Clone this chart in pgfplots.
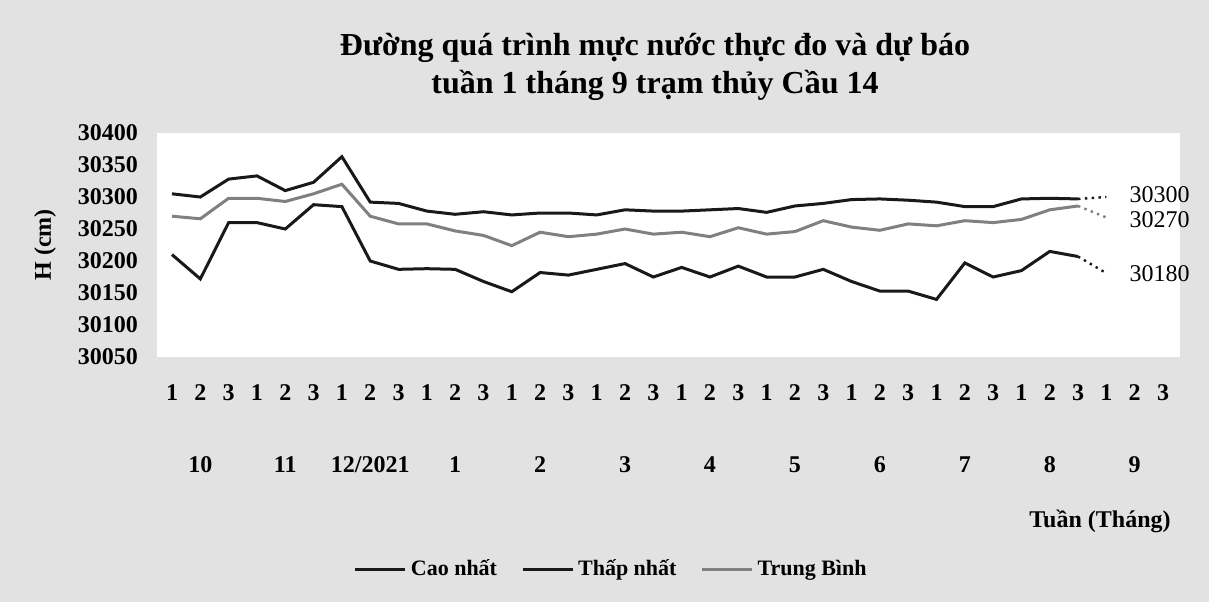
\documentclass[border=0pt]{standalone}
\usepackage{pgfplots}
\usepackage{pgfplotstable}
\pgfplotsset{compat=1.18}
\usepackage{fontspec}
\setmainfont{Liberation Serif}
\definecolor{bgray}{RGB}{226,226,226}
\definecolor{lblack}{RGB}{25,25,25}
\definecolor{lgray}{RGB}{128,128,128}

\pgfplotstableread{
x cao thap tb
0 30305 30210 30270
1 30300 30172 30266
2 30328 30260 30298
3 30333 30260 30298
4 30310 30250 30293
5 30323 30288 30305
6 30363 30285 30320
7 30292 30200 30270
8 30290 30187 30258
9 30278 30188 30258
10 30273 30187 30247
11 30277 30168 30240
12 30272 30152 30224
13 30275 30182 30245
14 30275 30178 30238
15 30272 30187 30242
16 30280 30196 30250
17 30278 30175 30242
18 30278 30190 30245
19 30280 30175 30238
20 30282 30192 30252
21 30276 30175 30242
22 30286 30175 30246
23 30290 30187 30263
24 30296 30168 30253
25 30297 30153 30248
26 30295 30153 30258
27 30292 30140 30255
28 30285 30197 30263
29 30285 30175 30260
30 30297 30185 30265
31 30298 30215 30280
32 30297 30207 30286
}\datatable

\begin{document}
\begin{tikzpicture}
\fill[bgray] (0,0) rectangle (604.5pt,301pt);
\path[use as bounding box] (0,0) rectangle (604.5pt,301pt);
\begin{axis}[
  scale only axis,
  width=511.5pt, height=112pt,
  at={(78.5pt,122.5pt)}, anchor=south west,
  xmin=-0.53, xmax=35.6,
  ymin=30050, ymax=30400,
  ytick={30050,30100,...,30400},
  scaled y ticks=false,
  yticklabel={\pgfmathprintnumber[fixed,precision=0,1000 sep={}]{\tick}},
  xtick={0,...,35},
  xticklabels={1,2,3,1,2,3,1,2,3,1,2,3,1,2,3,1,2,3,1,2,3,1,2,3,1,2,3,1,2,3,1,2,3,1,2,3},
  extra x ticks={1,4,...,34},
  extra x tick labels={10,11,12/2021,1,2,3,4,5,6,7,8,9},
  extra x tick style={xticklabel style={yshift=-36pt}},
  axis line style={draw=none},
  major tick length=0pt,
  axis background/.style={fill=white},
  /pgf/number format/assume math mode=true,
  ticklabel style={font=\fontsize{12}{14}\selectfont\bfseries},
  xticklabel style={yshift=-10pt, text height=8pt, text depth=1pt},
  yticklabel style={xshift=-6pt},
  clip=false,
  legend columns=3,
  legend style={draw=none, fill=none, at={(axis description cs:0.445,-0.95)}, anchor=center,
    font=\fontsize{11}{13}\selectfont\bfseries,
    nodes={text height=8pt, text depth=2pt},
    /tikz/every even column/.append style={column sep=10pt}},
  legend image code/.code={\draw[#1] (0pt,0pt) -- (25pt,0pt);},
]
\addplot[lblack, line width=1.5pt] table[x=x,y=cao] {\datatable};
\addlegendentry{Cao nhất}
\addplot[lblack, line width=1.5pt] table[x=x,y=thap] {\datatable};
\addlegendentry{Thấp nhất}
\addplot[lgray, line width=1.5pt] table[x=x,y=tb] {\datatable};
\addlegendentry{Trung Bình}
\addplot[lblack, line width=1.2pt, dash pattern=on 1.2pt off 2.2pt, forget plot] coordinates {(32,30297) (33,30300)}
  node[anchor=west, xshift=11pt, yshift=1pt, inner sep=0pt, text=black, font=\fontsize{12}{14}\selectfont] {30300};
\addplot[lgray, line width=1.2pt, dash pattern=on 1.2pt off 2.2pt, forget plot] coordinates {(32,30286) (33,30268)}
  node[anchor=west, xshift=11pt, yshift=-1pt, inner sep=0pt, text=black, font=\fontsize{12}{14}\selectfont] {30270};
\addplot[lblack, line width=1.2pt, dash pattern=on 1.2pt off 2.2pt, forget plot] coordinates {(32,30207) (33,30181)}
  node[anchor=west, xshift=11pt, inner sep=0pt, text=black, font=\fontsize{12}{14}\selectfont] {30180};
\end{axis}
\node[font=\fontsize{16}{19}\selectfont\bfseries] at (327.5pt,277pt) {Đường quá trình mực nước thực đo và dự báo};
\node[font=\fontsize{16}{19}\selectfont\bfseries] at (327.5pt,258.5pt) {tuần 1 tháng 9 trạm thủy Cầu 14};
\node[rotate=90, font=\fontsize{12}{14}\selectfont\bfseries] at (22.5pt,178.5pt) {H (cm)};
\node[font=\fontsize{12}{14}\selectfont\bfseries] at (550pt,40.5pt) {Tuần (Tháng)};
\end{tikzpicture}
\end{document}
